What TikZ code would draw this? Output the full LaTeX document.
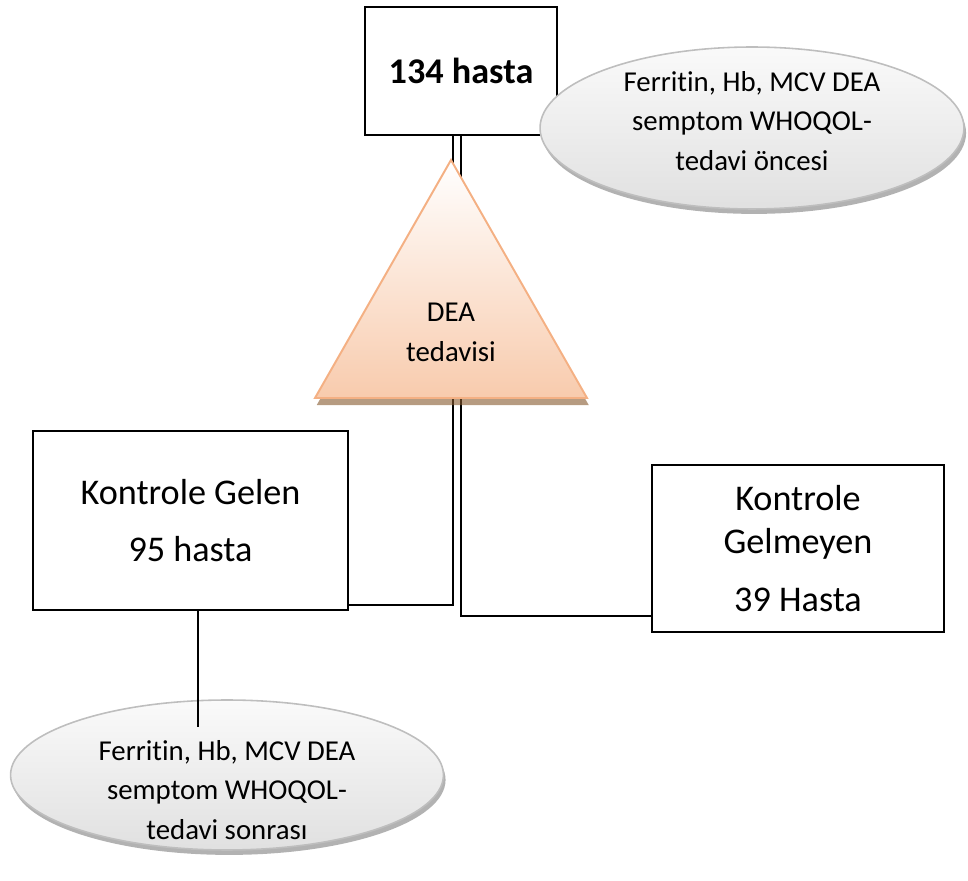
\documentclass[tikz,border=0pt]{standalone}
\usepackage{fontspec}
\setmainfont{Carlito}[Ligatures={NoCommon,NoContextual}, RawFeature=-calt]
\usetikzlibrary{shapes.geometric,shadows}
\definecolor{peach}{RGB}{248,203,173}
\definecolor{peachline}{RGB}{244,176,131}
\definecolor{ovalline}{RGB}{190,190,190}
\tikzset{
  box/.style={
    shape = rectangle,
    draw,
    line width = 1.4pt,
    fill = white,
    align = center,
    font = \fontsize{20.6}{32.3}\selectfont
  },
}
\tikzset{
  oval/.style={
    shape = ellipse,
    draw = ovalline,
    line width = 0.9pt,
    inner sep = 0pt,
    top color = gray!4,
    bottom color = gray!24,
    drop shadow = {shadow xshift=1.2pt, shadow yshift=-2.8pt, opacity=0.5, fill=gray!80!black}
  },
  ovaltext/.style={
    align = center,
    font = \fontsize{16.4}{22.7}\selectfont
  },
  tri/.style={
    draw = peachline,
    line width = 1.1pt,
    top color = white,
    bottom color = peach,
    drop shadow = {shadow xshift=1pt, shadow yshift=-4pt, opacity=0.6, fill=brown!70!black}
  },
  link/.style={
    line width = 1.2pt
  }
}

\begin{document}
\begin{tikzpicture}[x=0.02cm, y=-0.02cm]
        \useasboundingbox (0,0) rectangle (968,881);
        \node[box, minimum width=3.84cm, minimum height=2.56cm, font=\bfseries\fontsize{20.6}{32.3}\selectfont] (hasta) at (461,71) {134 hasta};
        \node[box, minimum width=6.3cm, minimum height=3.58cm] (gelen) at (190.5,520.5) {Kontrole Gelen\\95 hasta};
        \node[box, minimum width=5.84cm, minimum height=3.34cm, font=\fontsize{20.6}{24}\selectfont] (gelmeyen) at (798,548.5) {Kontrole\\Gelmeyen\\[9pt]39 Hasta};
        % double line behind the triangle
        \draw[link] ([xshift=-0.16cm]hasta.south) |- ([yshift=0.12cm]gelen.south east);
        \draw[link] (hasta.south) |- ([yshift=0.34cm]gelmeyen.south west);
        \coordinate (apex) at (451,160);
        \coordinate (baseL) at (315,398);
        \coordinate (baseR) at (587,398);
        \draw[tri] (apex) -- (baseR) -- (baseL) -- cycle;
        \node[ovaltext] (dea) at (451,332.5) {DEA\\tedavisi};
        % ellipses
        \node[oval, minimum width=8.48cm, minimum height=3.24cm] (once) at (752,128) {};
        \node[ovaltext] (oncetext) at (752,121) {Ferritin, Hb, MCV DEA\\semptom WHOQOL-\\tedavi öncesi};
        \node[oval, minimum width=8.66cm, minimum height=3.0cm] (sonra) at (227,775) {};
        \node[ovaltext] (sonratext) at (227,790) {Ferritin, Hb, MCV DEA\\semptom WHOQOL-\\tedavi sonrası};
        \coordinate (tail) at (198,727);
        \draw[link] (tail |- gelen.south) -- (tail);
\end{tikzpicture}
\end{document}
